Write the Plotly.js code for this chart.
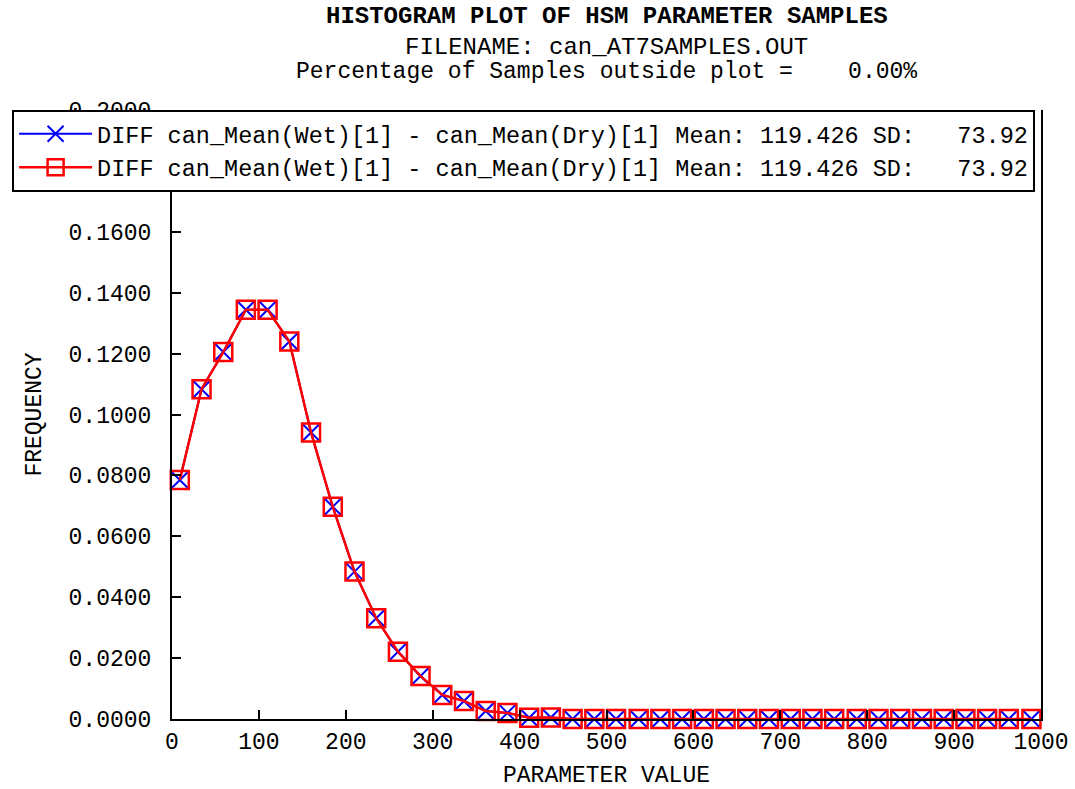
<!DOCTYPE html>
<html>
<head>
<meta charset="utf-8">
<script src="https://cdn.plot.ly/plotly-3.0.1.min.js"></script>
<style>html,body{margin:0;padding:0;background:#fff;}#chart{width:1075px;height:789px;}</style>
</head>
<body>
<div id="chart"></div>
<script>
// Bin centres (parameter value)
var binCenters = [9, 34, 59, 85, 110, 135, 160, 185, 210, 235,
                  260, 286, 311, 336, 361, 386, 411, 436, 461, 486,
                  511, 537, 562, 587, 612, 637, 662, 687, 712, 737,
                  762, 788, 813, 838, 863, 888, 913, 938, 963, 989];
// Frequencies
var freqWet = [0.0785, 0.1083, 0.1205, 0.1344, 0.1344, 0.1240, 0.0941, 0.0697, 0.0484, 0.0331,
               0.0221, 0.0141, 0.0079, 0.0059, 0.0026, 0.0020, 0.0004, 0.0005, 0, 0,
               0, 0, 0, 0, 0, 0, 0, 0, 0, 0,
               0, 0, 0, 0, 0, 0, 0, 0, 0, 0];
var freqDry = freqWet.slice();
var seriesNames = [
  "DIFF can_Mean(Wet)[1] - can_Mean(Dry)[1] Mean: 119.426 SD:   73.92",
  "DIFF can_Mean(Wet)[1] - can_Mean(Dry)[1] Mean: 119.426 SD:   73.92"
];
var titleLines = [
  "HISTOGRAM PLOT OF HSM PARAMETER SAMPLES",
  "FILENAME: can_AT7SAMPLES.OUT",
  "Percentage of Samples outside plot =    0.00%"
];
var xTitle = "PARAMETER VALUE";
var yTitle = "FREQUENCY";

var mono = "Liberation Mono, Courier New, monospace";

var traces = [
  {
    x: binCenters, y: freqWet, name: seriesNames[0], type: "scatter", mode: "lines+markers",
    line: {color: "#0000ff", width: 2},
    marker: {symbol: "x-thin-open", size: 18, color: "#0000ff", line: {color: "#0000ff", width: 2}},
    cliponaxis: false
  },
  {
    x: binCenters, y: freqDry, name: seriesNames[1], type: "scatter", mode: "lines+markers",
    line: {color: "#ff0000", width: 2.5},
    marker: {symbol: "square-open", size: 18, color: "#ff0000", line: {color: "#ff0000", width: 2.5}},
    cliponaxis: false
  }
];

var layout = {
  width: 1075, height: 789,
  paper_bgcolor: "#ffffff", plot_bgcolor: "#ffffff",
  margin: {l: 168, r: 34, t: 110, b: 70, pad: 0},
  font: {family: mono, color: "#000000", size: 23},
  showlegend: true,
  legend: {
    x: -0.184, xanchor: "left", y: 1.0, yanchor: "top",
    bgcolor: "#ffffff", bordercolor: "#000000", borderwidth: 2,
    font: {family: mono, size: 23.5, color: "#000000"},
    tracegroupgap: 0, itemwidth: 73
  },
  xaxis: {
    range: [0, 1000], dtick: 100, tick0: 0, automargin: false,
    showgrid: false, zeroline: false,
    showline: true, linecolor: "#000000", linewidth: 2, mirror: false,
    ticks: "inside", ticklen: 9, tickwidth: 2, tickcolor: "#000000",
    tickfont: {family: mono, size: 23, color: "#000000"},
    title: {text: xTitle, font: {family: mono, size: 23, color: "#000000"}, standoff: 15}
  },
  yaxis: {
    range: [0, 0.2], dtick: 0.02, tick0: 0, tickformat: ".4f", automargin: false,
    showgrid: false, zeroline: false,
    showline: true, linecolor: "#000000", linewidth: 2, mirror: true,
    ticks: "inside", ticklen: 9, tickwidth: 2, tickcolor: "#000000",
    tickfont: {family: mono, size: 23, color: "#000000"},
    ticklabelstandoff: 14,
    title: {text: yTitle, font: {family: mono, size: 23, color: "#000000"}, standoff: 21}
  },
  annotations: [
    {text: "<b>" + titleLines[0] + "</b>", xref: "paper", yref: "paper", x: 0.5, y: 1.154,
     xanchor: "center", yanchor: "middle", showarrow: false,
     font: {family: mono, size: 24, color: "#000000"}},
    {text: titleLines[1], xref: "paper", yref: "paper", x: 0.5, y: 1.1034,
     xanchor: "center", yanchor: "middle", showarrow: false,
     font: {family: mono, size: 24, color: "#000000"}},
    {text: titleLines[2], xref: "paper", yref: "paper", x: 0.5, y: 1.0624,
     xanchor: "center", yanchor: "middle", showarrow: false,
     font: {family: mono, size: 23, color: "#000000"}}
  ]
};

Plotly.newPlot("chart", traces, layout, {displayModeBar: false, responsive: false});
</script>
</body>
</html>
